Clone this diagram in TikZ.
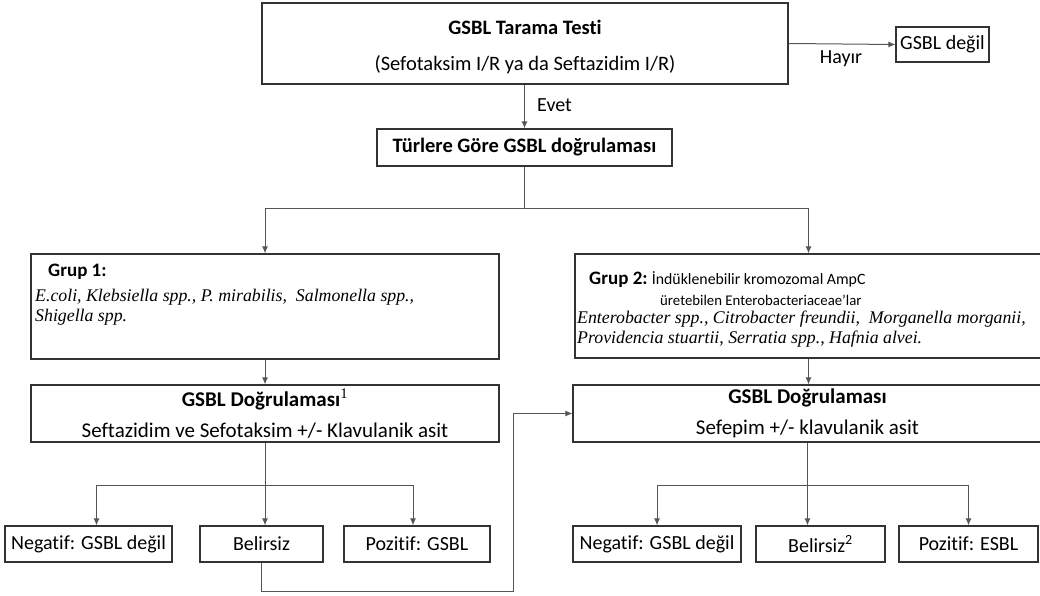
\documentclass[tikz,border=0pt]{standalone}
\usepackage{fontspec}
\setmainfont{Carlito}[Ligatures=NoCommon]
\newfontfamily\spfont{Liberation Serif}
\usetikzlibrary{arrows.meta,positioning,calc}
\definecolor{linegray}{HTML}{333333}
\definecolor{arrgray}{HTML}{555555}

\begin{document}
\begin{tikzpicture}[x=1pt, y=-1pt,
  box/.style={draw=linegray, line width=1.3pt, inner sep=0pt, align=center, font=\fontsize{20}{24}\selectfont},
  txt/.style={inner sep=0pt, font=\fontsize{20}{24}\selectfont},
  spc/.style={inner sep=0pt, align=left, font=\spfont\itshape\fontsize{17.8}{20}\selectfont},
  arr/.style={-{Latex[length=7pt,width=6pt]}, line width=1pt, color=arrgray},
  ln/.style={line width=1pt, color=arrgray}
]
\useasboundingbox (0,0) rectangle (1040,596);
% screening test
\node[box, minimum width=526, minimum height=81, font=\fontsize{20.5}{24}\selectfont] (tarama) at (525,43.5) {\rule{0pt}{21pt}\textbf{GSBL Tarama Testi}\\[12pt](Sefotaksim I/R ya da Seftazidim I/R)};
\node[box, minimum width=93, minimum height=35] (degil) at (942.5,44.5) {GSBL değil};
\node[box, minimum width=295, minimum height=37, font=\fontsize{20.5}{24}\selectfont] (turler) at (524.5,147.5) {\textbf{Türlere Göre GSBL doğrulaması}};
\draw[arr] (tarama.east) -- (degil.west);
\node[txt] (hayir) at (841,59) {Hayır};
\draw[arr] (turler.north |- tarama.south) -- (turler.north);
\node[txt, anchor=west] (evet) at (537,105) {Evet};
% groups
\node[box, minimum width=468, minimum height=105] (grup1) at (265,306.5) {};
\node[txt, anchor=west, font=\fontsize{19}{23}\selectfont] (g1head) at (48,272) {\textbf{Grup 1:}};
\node[spc, anchor=base west] (g1list) at (35,321) {E.coli, Klebsiella spp., P. mirabilis,\ \ Salmonella spp.,\\Shigella spp.};
\node[box, minimum width=467, minimum height=104] (grup2) at (808.5,306) {};
\node[txt, anchor=west, font=\fontsize{19}{23}\selectfont] (g2head) at (589,280) {\textbf{Grup 2:}\ {\fontsize{15.8}{19}\selectfont İndüklenebilir kromozomal AmpC}};
\node[txt, anchor=west, font=\fontsize{14.8}{18}\selectfont] (g2sub) at (660,300) {üretebilen Enterobacteriaceae'lar};
\node[spc, anchor=base west] (g2list) at (577,343) {Enterobacter spp., Citrobacter freundii,\ \ Morganella morganii,\\Providencia stuartii, Serratia spp., Hafnia alvei.};
\draw[ln] (turler.south) -- ++(0,42) coordinate (split);
\draw[arr] (split) -| (grup1.north);
\draw[arr] (split) -| (grup2.north);
% confirmation tests
\node[box, minimum width=468, minimum height=57, font=\fontsize{21}{25}\selectfont] (dog1) at (265,413.5) {\textbf{GSBL Doğrulaması}{\spfont\textsuperscript{1}}\\[6pt]Seftazidim ve Sefotaksim +/- Klavulanik asit};
\node[box, minimum width=469, minimum height=57, font=\fontsize{21}{25}\selectfont] (dog2) at (807.5,413.5) {\textbf{GSBL Doğrulaması}\\[6pt]Sefepim +/- klavulanik asit};
\draw[arr] (grup1.south) -- (dog1.north);
\draw[arr] (grup2.south) -- (grup2.south |- dog2.north);
% results
\node[box, minimum width=167, minimum height=36] (neg1) at (88.5,544) {Negatif: GSBL değil};
\node[box, minimum width=123, minimum height=36] (bel1) at (261.5,544) {Belirsiz};
\node[box, minimum width=146, minimum height=36] (poz1) at (417,544) {Pozitif: GSBL};
\node[box, minimum width=168, minimum height=36] (neg2) at (657,544) {Negatif: GSBL değil};
\node[box, minimum width=129, minimum height=36] (bel2) at (820.5,544) {Belirsiz\textsuperscript{2}};
\node[box, minimum width=139, minimum height=36] (poz2) at (968.5,544) {Pozitif: ESBL};
\draw[ln] (dog1.south) -- ++(0,43) coordinate (s1);
\draw[arr] (s1) -| ([xshift=8]neg1.north);
\draw[arr] (s1) -- (s1 |- bel1.north);
\draw[arr] (s1) -| ([xshift=-4]poz1.north);
\draw[ln] (dog2.south) -- ++(0,43) coordinate (s2);
\draw[arr] (s2) -| (neg2.north);
\draw[arr] (s2) -- (s2 |- bel2.north);
\draw[arr] (s2) -| (poz2.north);
% indeterminate goes to group 2 test
\coordinate (loop) at (513,591);
\draw[arr] (bel1.south) |- (loop) |- (dog2.west);
\end{tikzpicture}
\end{document}
